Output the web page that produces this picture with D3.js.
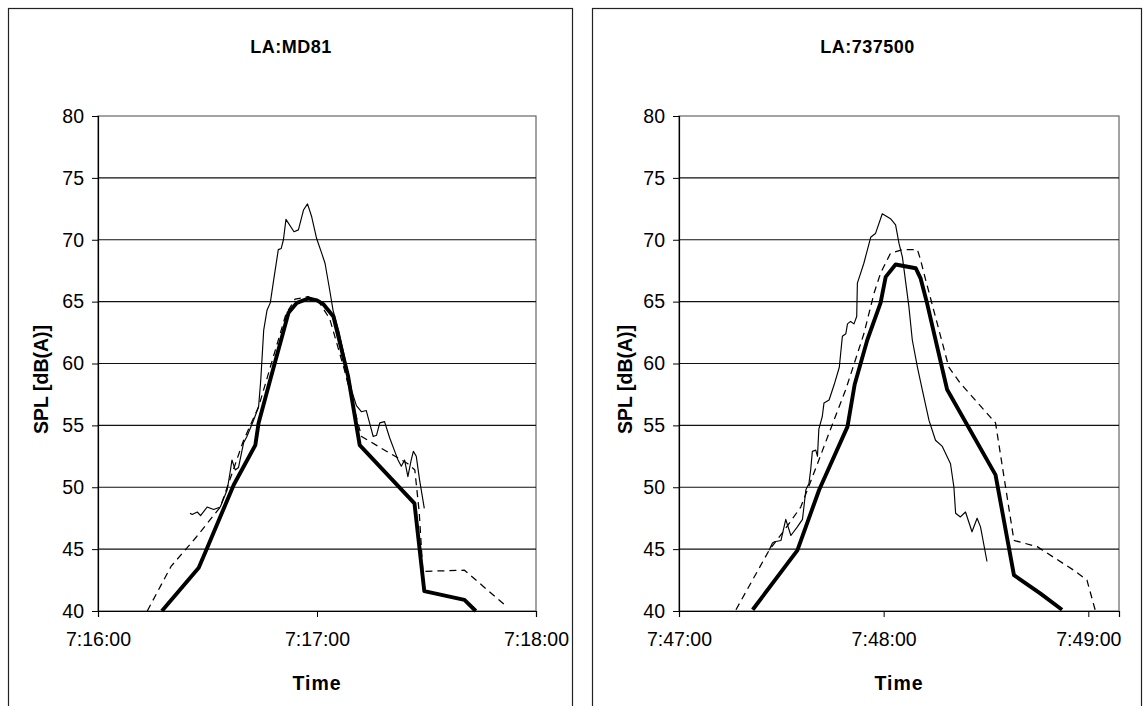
<!DOCTYPE html>
<html>
<head>
<meta charset="utf-8">
<script src="https://cdn.jsdelivr.net/npm/d3@7"></script>
<style>
  html, body { margin: 0; padding: 0; background: #fff; }
  svg { display: block; font-family: "Liberation Sans", Arial, sans-serif; }
</style>
</head>
<body>
<svg id="chart" width="1143" height="706"></svg>
<script>
// ---------------- DATA ----------------
const chartTitles = ["LA:MD81", "LA:737500"];
// x axis start time and domain length in seconds
const startTimes = ["7:16:00", "7:47:00"];
const domainSeconds = [120, 129];
const xTickOffsets = [0, 60, 120];
const yTicks = [40, 45, 50, 55, 60, 65, 70, 75, 80];

// [seconds after axis start, dB(A)]
const md81Measured = [[25.2,47.9],[25.8,47.8],[27.2,48.0],[28.1,47.7],[29.9,48.4],[31.7,48.2],[33.5,48.4],[35.4,49.8],[36.3,51.4],[36.7,52.2],[37.6,51.4],[38.5,51.6],[39.9,53.6],[40.8,54.1],[42.6,55.4],[44.0,56.5],[44.6,58.7],[45.4,62.7],[46.3,64.3],[47.2,64.9],[48.1,66.7],[49.4,69.2],[50.2,69.3],[50.8,70.0],[51.5,71.65],[53.7,70.65],[54.9,70.8],[56.3,72.4],[57.4,72.9],[58.5,71.9],[59.9,70.1],[61.3,68.9],[62.2,68.1],[63.5,65.9],[64.4,64.3],[66.0,62.6],[68.3,59.5],[69.5,57.8],[70.8,56.6],[72.2,56.1],[73.5,56.2],[74.4,55.2],[75.4,54.1],[76.3,54.2],[77.2,55.2],[78.5,55.3],[79.9,54.0],[81.3,52.9],[82.2,52.2],[83.1,51.7],[84.0,52.2],[84.9,50.85],[85.8,52.2],[86.4,52.9],[87.2,52.5],[88.1,50.6],[89.4,48.3]];
const md81Dashed = [[13.5,40.0],[20.0,43.6],[27.0,46.0],[33.5,48.4],[39.9,53.8],[44.0,56.5],[48.0,60.5],[51.5,64.0],[54.0,65.2],[57.5,65.4],[60.5,65.0],[63.5,63.6],[67.5,59.5],[70.5,56.0],[72.2,54.1],[80.8,52.6],[84.9,51.9],[86.8,51.4],[88.0,48.0],[89.0,43.2],[100.4,43.3],[111.8,40.4]];
const md81Thick = [[17.5,40.0],[27.6,43.5],[29.9,45.1],[37.2,50.2],[43.1,53.4],[44.0,55.2],[47.3,58.8],[52.2,64.1],[54.5,64.9],[57.6,65.25],[60.0,65.1],[61.7,64.8],[64.5,63.8],[68.5,59.0],[71.7,53.4],[86.7,48.7],[89.4,41.6],[100.4,40.9],[103.5,40.0]];

const b737Measured = [[26.4,44.9],[27.4,45.5],[28.0,45.6],[29.9,45.7],[31.3,47.4],[32.8,46.1],[34.7,46.8],[36.2,47.4],[37.2,49.8],[38.1,50.3],[38.6,51.4],[39.1,52.9],[40.1,53.0],[40.6,52.5],[41.0,54.7],[42.0,55.7],[42.5,56.8],[44.0,57.05],[45.5,58.3],[47.0,59.7],[47.9,62.2],[48.9,62.4],[49.4,63.2],[50.3,63.4],[51.3,63.2],[52.1,63.8],[52.3,66.5],[54.2,68.1],[56.2,70.2],[57.6,70.5],[59.6,72.1],[62.0,71.7],[63.5,71.2],[64.5,69.7],[65.5,68.6],[66.4,66.7],[67.4,64.6],[68.4,61.9],[69.9,59.7],[71.3,57.9],[73.3,55.4],[75.2,53.8],[77.2,53.3],[79.6,51.9],[80.6,50.0],[81.1,47.9],[82.5,47.6],[84.0,48.0],[85.9,46.4],[87.4,47.5],[88.4,46.8],[90.3,44.0]];
const b737Dashed = [[16.7,40.1],[26.4,44.9],[30.8,46.5],[35.7,48.4],[40.6,51.9],[45.4,55.4],[48.9,57.9],[54.2,62.4],[57.2,65.7],[59.1,67.3],[62.0,68.9],[65.5,69.2],[69.9,69.2],[70.8,68.4],[71.8,67.3],[79.1,59.7],[82.5,58.4],[92.8,55.2],[98.2,45.7],[105.0,45.2],[115.7,43.3],[119.6,42.5],[122.0,40.1]];
const b737Thick = [[21.6,40.1],[34.7,44.9],[41.1,49.8],[49.4,54.9],[51.5,58.3],[55.2,61.9],[59.1,64.9],[60.6,67.0],[63.5,68.0],[69.4,67.7],[70.8,66.9],[72.7,64.9],[78.6,57.9],[92.8,51.0],[98.2,42.9],[106.0,41.4],[112.3,40.1]];

const panelSeries = [
  [md81Measured, md81Dashed, md81Thick],
  [b737Measured, b737Dashed, b737Thick]
];

// ---------------- LAYOUT ----------------
const svg = d3.select("#chart");
const panels = [
  { x0: 8, x1: 572, plotL: 98, plotR: 536 },
  { x0: 592, x1: 1141, plotL: 679, plotR: 1119 }
];
const plotTop = 116, plotBottom = 611;
const FONT = "'Liberation Sans', Arial, sans-serif";

function toSec(s) { const p = s.split(":").map(Number); return p[0]*3600 + p[1]*60 + p[2]; }
function fmt(sec) {
  const h = Math.floor(sec / 3600), m = Math.floor((sec % 3600) / 60), s = Math.round(sec % 60);
  return h + ":" + String(m).padStart(2, "0") + ":" + String(s).padStart(2, "0");
}

const styles = [
  { w: 1.15, dash: null },
  { w: 1.25, dash: "7,5" },
  { w: 3.9, dash: null }
];

panels.forEach((p, i) => {
  const g = svg.append("g");
  // panel frame
  g.append("rect").attr("x", p.x0 + 0.5).attr("y", 8.5)
    .attr("width", p.x1 - p.x0).attr("height", 720)
    .attr("fill", "none").attr("stroke", "#222").attr("stroke-width", 1.2);

  const base = toSec(startTimes[i]);
  const x = d3.scaleLinear().domain([0, domainSeconds[i]]).range([p.plotL, p.plotR]);
  const y = d3.scaleLinear().domain([40, 80]).range([plotBottom, plotTop]);

  // plot area border
  g.append("rect").attr("x", p.plotL).attr("y", plotTop)
    .attr("width", p.plotR - p.plotL).attr("height", plotBottom - plotTop)
    .attr("fill", "none").attr("stroke", "#666").attr("stroke-width", 1.2);

  // gridlines
  g.append("g").selectAll("line").data(yTicks.filter(v => v > 40 && v < 80)).join("line")
    .attr("x1", p.plotL).attr("x2", p.plotR)
    .attr("y1", d => y(d)).attr("y2", d => y(d))
    .attr("stroke", "#111").attr("stroke-width", 1.1);

  // y axis
  const yAxis = g.append("g").attr("transform", `translate(${p.plotL},0)`)
    .call(d3.axisLeft(y).tickValues(yTicks).tickSize(6).tickPadding(8).tickFormat(d3.format("d")));
  yAxis.attr("font-size", null).attr("font-family", null);
  yAxis.select(".domain").attr("stroke", "#000").attr("stroke-width", 1.2);
  yAxis.selectAll(".tick line").attr("stroke", "#000");
  yAxis.selectAll("text").style("font-size", "19.5px").attr("fill", "#000").style("font-family", FONT);

  // x axis
  const xAxis = g.append("g").attr("transform", `translate(0,${plotBottom})`)
    .call(d3.axisBottom(x).tickValues(xTickOffsets).tickSize(6).tickPadding(15)
      .tickFormat(d => fmt(base + d)));
  xAxis.attr("font-size", null).attr("font-family", null);
  xAxis.select(".domain").attr("stroke", "#000").attr("stroke-width", 1.2);
  xAxis.selectAll(".tick line").attr("stroke", "#000");
  xAxis.selectAll("text").style("font-size", "19.5px").attr("fill", "#000").style("font-family", FONT);

  // series
  const line = d3.line().x(d => x(d[0])).y(d => y(d[1]));
  panelSeries[i].forEach((data, k) => {
    g.append("path").datum(data)
      .attr("d", line)
      .attr("fill", "none").attr("stroke", "#000")
      .attr("stroke-width", styles[k].w)
      .attr("stroke-dasharray", styles[k].dash)
      .attr("stroke-linejoin", "round");
  });

  // title
  g.append("text").attr("x", (p.x0 + p.x1) / 2 + 1).attr("y", 53)
    .attr("text-anchor", "middle").style("font-size", "18px").attr("font-weight", "bold")
    .style("font-family", FONT).attr("letter-spacing", 0.5).text(chartTitles[i]);

  // x title
  g.append("text").attr("x", (p.plotL + p.plotR) / 2).attr("y", 690)
    .attr("text-anchor", "middle").style("font-size", "19.5px").attr("font-weight", "bold")
    .style("font-family", FONT).attr("letter-spacing", 1).text("Time");

  // y title
  g.append("text")
    .attr("transform", `translate(${p.x0 + 40},${(plotTop + plotBottom) / 2 + 16}) rotate(-90)`)
    .attr("text-anchor", "middle").style("font-size", "19.5px").attr("font-weight", "bold")
    .style("font-family", FONT).text("SPL [dB(A)]");
});
</script>
</body>
</html>
